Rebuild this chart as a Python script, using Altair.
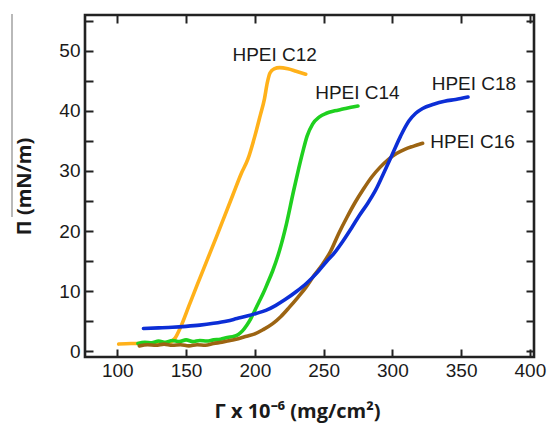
import altair as alt
import pandas as pd

# ---- data ----
series_names = ["HPEI C12", "HPEI C14", "HPEI C16", "HPEI C18"]
series_colors = ["#FFB11A", "#1FD01F", "#9C6412", "#0C2ED6"]

c12_x = [101, 110, 120, 130, 138, 142, 146, 152, 158, 165, 172, 178, 184, 190, 195, 200, 204, 207, 209, 211, 214, 218, 224, 230, 237]
c12_y = [1.2, 1.3, 1.3, 1.35, 1.5, 2.2, 4.0, 7.5, 11.0, 15.0, 19.0, 22.5, 26.0, 29.5, 32.0, 35.8, 39.3, 42.0, 44.6, 46.3, 47.0, 47.2, 47.0, 46.6, 46.1]

c14_x = [115, 120, 125, 130, 135, 140, 145, 150, 155, 160, 165, 170, 175, 180, 185, 188, 191, 194, 197, 200, 203, 206, 209, 213, 218, 223, 228, 232, 235, 238, 242, 247, 252, 258, 264, 270, 275]
c14_y = [1.3, 1.5, 1.4, 1.7, 1.5, 1.8, 1.6, 1.9, 1.6, 1.8, 1.7, 1.9, 2.0, 2.3, 2.5, 2.8, 3.4, 4.3, 5.4, 6.8, 8.2, 9.6, 11.2, 13.4, 16.8, 21.2, 26.5, 30.5, 33.3, 35.8, 37.8, 39.0, 39.6, 40.0, 40.3, 40.6, 40.8]

c16_x = [116, 122, 128, 134, 140, 146, 152, 158, 164, 170, 176, 182, 188, 194, 200, 206, 213, 219, 225, 231, 237, 243, 249, 255, 261, 267, 273, 279, 285, 291, 297, 303, 309, 315, 322]
c16_y = [0.9, 1.1, 1.0, 1.2, 1.0, 1.1, 0.9, 1.1, 1.0, 1.3, 1.5, 1.8, 2.1, 2.5, 2.9, 3.6, 4.6, 5.8, 7.3, 8.9, 10.6, 12.6, 14.4, 16.6, 19.6, 22.3, 24.8, 27.0, 29.0, 30.6, 31.9, 32.9, 33.6, 34.1, 34.6]

c18_x = [119, 130, 140, 150, 160, 170, 180, 187, 195, 201, 208, 215, 222, 230, 238, 245, 252, 258, 264, 270, 276, 282, 288, 294, 300, 306, 312, 317, 322, 330, 338, 346, 355]
c18_y = [3.8, 3.9, 4.0, 4.15, 4.35, 4.65, 5.05, 5.45, 5.9, 6.3, 6.8, 7.6, 8.6, 9.9, 11.4, 13.0, 14.9, 16.4, 18.3, 20.4, 22.6, 24.6, 26.9, 29.8, 32.8, 35.8, 38.3, 39.6, 40.4, 41.1, 41.6, 41.9, 42.3]

label_x = [214.4, 274.6, 358.3, 359.3]
label_y = [49.3, 43.0, 34.85, 44.5]

x_ticks = [100, 150, 200, 250, 300, 350, 400]
y_ticks = [0, 5, 10, 15, 20, 25, 30, 35, 40, 45, 50, 55]
x_domain = [76.5, 403]
y_domain = [-0.95, 55.95]

# ---- tables ----
rows = []
for name, xs, ys in zip(series_names, [c12_x, c14_x, c16_x, c18_x], [c12_y, c14_y, c16_y, c18_y]):
    for i, (a, b) in enumerate(zip(xs, ys)):
        rows.append({"series": name, "x": a, "y": b, "i": i})
lines_df = pd.DataFrame(rows)
labels_df = pd.DataFrame({"series": series_names, "x": label_x, "y": label_y})

FONT = "Liberation Sans"
TICK = 8
xs_scale = alt.Scale(domain=x_domain, nice=False, zero=False)
ys_scale = alt.Scale(domain=y_domain, nice=False, zero=False)
color = alt.Color("series:N", scale=alt.Scale(domain=series_names, range=series_colors), legend=None)

lines = alt.Chart(lines_df).mark_line(strokeWidth=3.6, strokeCap="round", strokeJoin="round", interpolate="monotone").encode(
    x=alt.X("x:Q", scale=xs_scale, axis=alt.Axis(
        orient="bottom", values=x_ticks, offset=-TICK, tickSize=TICK, tickWidth=2, tickColor="#222",
        domain=False, grid=False, labelPadding=4, labelFont=FONT, labelFontSize=19, labelColor="#1a1a1a",
        title="Γ x 10⁻⁶ (mg/cm²)", titleFont="Open Sans", titleFontSize=20, titleFontWeight="bold",
        titleColor="#1a1a1a", titleX=212, titleY=68, titleAnchor="start", titleAlign="center",
        titleBaseline="alphabetic")),
    y=alt.Y("y:Q", scale=ys_scale, axis=alt.Axis(
        orient="left", values=y_ticks, offset=-TICK, tickSize=TICK, tickWidth=2, tickColor="#222",
        domain=False, grid=False, labelPadding=5, labelFont=FONT, labelFontSize=19, labelColor="#1a1a1a",
        labelExpr="datum.value % 10 === 0 ? datum.label : ''",
        title="Π (mN/m)", titleFont="Open Sans", titleFontSize=20, titleFontWeight="bold",
        titleColor="#1a1a1a", titleX=-69, titleY=171, titleAngle=270, titleAlign="center",
        titleBaseline="middle", titleAnchor="start")),
    color=color,
    order="i:Q",
)

texts = alt.Chart(labels_df).mark_text(font=FONT, fontSize=19, color="#1a1a1a", align="center", baseline="middle").encode(
    x=alt.X("x:Q", scale=xs_scale, axis=alt.Axis(
        orient="top", values=x_ticks, offset=-TICK, tickSize=TICK, tickWidth=2, tickColor="#222",
        domain=False, grid=False, labels=False, title=None)),
    y=alt.Y("y:Q", scale=ys_scale, axis=alt.Axis(
        orient="right", values=y_ticks, offset=-TICK, tickSize=TICK, tickWidth=2, tickColor="#222",
        domain=False, grid=False, labels=False, title=None)),
    text="series:N",
)

artifact = alt.Chart(pd.DataFrame({"a": [0]})).mark_rule(color="#8a8a8a", strokeWidth=1.2).encode(
    x=alt.value(-73), y=alt.value(-1), y2=alt.value(202)
)

chart = alt.layer(lines, texts, artifact).resolve_axis(x="independent", y="independent").properties(
    width=449, height=342,
    padding={"left": 85, "top": 15, "right": 13, "bottom": 66},
    autosize=alt.AutoSizeParams(type="none"),
    background="white",
).configure_view(stroke="#222", strokeWidth=2.6)

chart.save("out.html", embed_options={"renderer": "svg", "actions": False})
